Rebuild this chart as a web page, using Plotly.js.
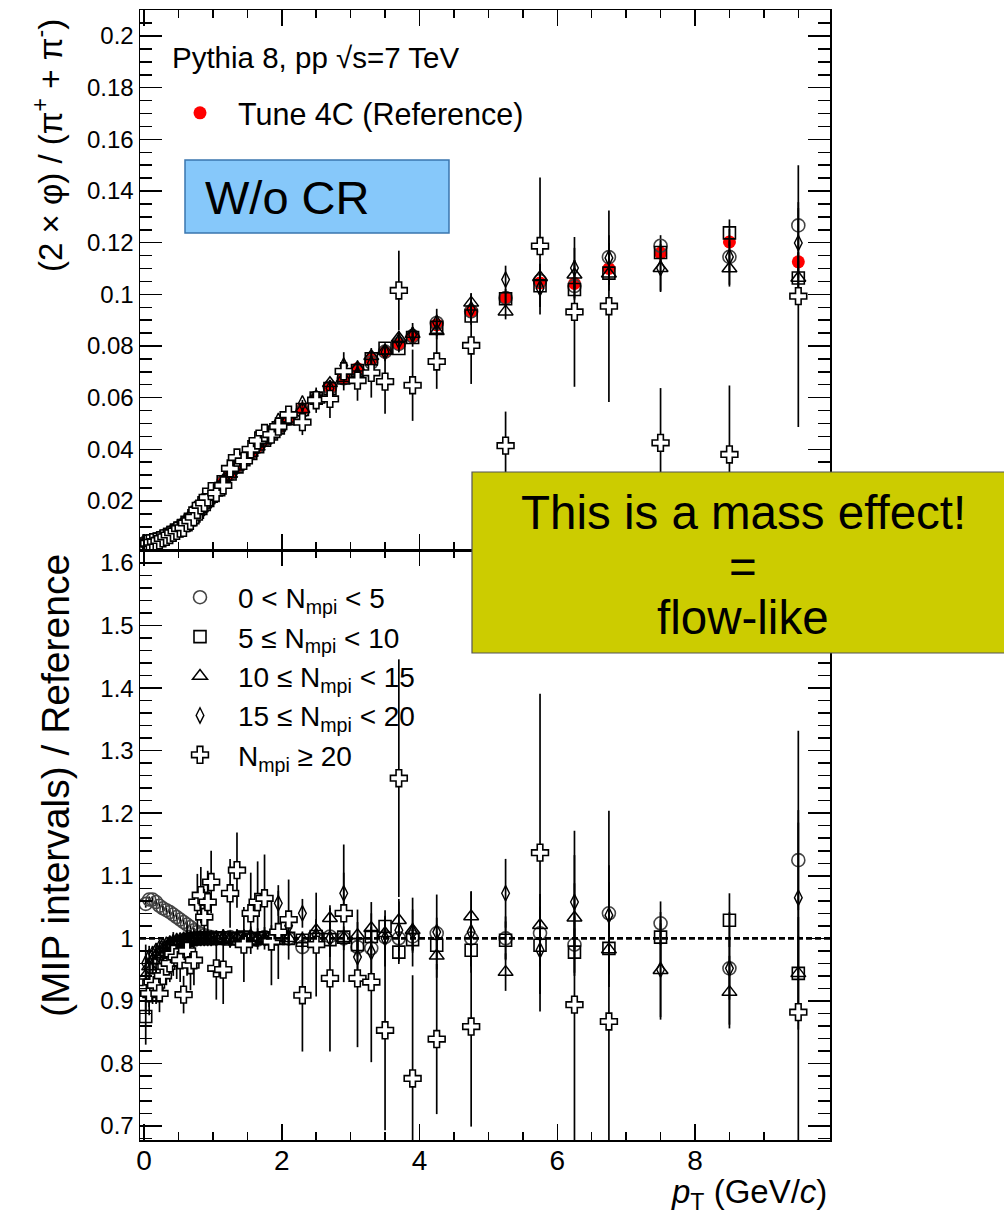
<!DOCTYPE html>
<html><head><meta charset="utf-8">
<script src="https://cdn.plot.ly/plotly-3.0.1.min.js"></script>
<style>html,body{margin:0;padding:0;background:#fff}</style>
</head><body><div id="chart" style="width:1004px;height:1217px"></div>
<script>
// pT bin centres (GeV/c)
const pt = [0.025,0.075,0.125,0.175,0.225,0.275,0.325,0.375,0.425,0.475,0.525,0.575,0.625,0.675,0.725,0.775,0.825,0.875,0.925,0.975,1.05,1.15,1.25,1.35,1.45,1.55,1.65,1.75,1.85,1.95,2.1,2.3,2.5,2.7,2.9,3.1,3.3,3.5,3.7,3.9,4.25,4.75,5.25,5.75,6.25,6.75,7.5,8.5,9.5];

// Top panel: (2 x phi)/(pi+ + pi-)
const refTop = [0.0038,0.0040,0.0043,0.0047,0.0052,0.0058,0.0064,0.0071,0.0079,0.0087,0.0096,0.0106,0.0117,0.0129,0.0142,0.0156,0.0171,0.0186,0.0202,0.0218,0.0243,0.0274,0.0304,0.0332,0.0359,0.0385,0.0410,0.0435,0.0459,0.0483,0.0518,0.0556,0.0596,0.0636,0.0675,0.0712,0.0748,0.0776,0.0808,0.0835,0.0882,0.0934,0.0986,0.1044,0.1042,0.1100,0.1160,0.1203,0.1126];
const refTopErr = [0.00002,0.00002,0.00002,0.00002,0.00002,0.00002,0.00002,0.00003,0.00003,0.00003,0.00003,0.00004,0.00004,0.00005,0.00005,0.00006,0.00006,0.00007,0.00008,0.00008,0.0001,0.00011,0.00013,0.00014,0.00016,0.00018,0.0002,0.00022,0.00024,0.00026,0.0003,0.00034,0.00039,0.00044,0.0005,0.00056,0.00063,0.0007,0.00078,0.00086,0.001,0.0012,0.0014,0.0017,0.0019,0.0022,0.0018,0.0025,0.0035];

const circTop = [0.0040,0.0042,0.0046,0.0050,0.0055,0.0061,0.0067,0.0074,0.0082,0.0090,0.0099,0.0109,0.0120,0.0131,0.0144,0.0158,0.0172,0.0187,0.0203,0.0218,0.0243,0.0274,0.0305,0.0332,0.0359,0.0385,0.0409,0.0436,0.0459,0.0483,0.0518,0.0548,0.0596,0.0638,0.0675,0.0702,0.0736,0.0778,0.0808,0.0838,0.0889,0.0934,0.0986,0.1052,0.1032,0.1144,0.1188,0.1145,0.1267];
const circTopErr = [0.00002,0.00002,0.00002,0.00002,0.00002,0.00002,0.00003,0.00003,0.00003,0.00003,0.00004,0.00004,0.00005,0.00005,0.00006,0.00006,0.00007,0.00007,0.0001,0.0001,0.00012,0.00014,0.00018,0.0002,0.00022,0.00027,0.00029,0.00035,0.00037,0.00043,0.00047,0.00056,0.00066,0.00076,0.00088,0.00107,0.0012,0.0014,0.0016,0.0018,0.0022,0.0028,0.0035,0.0042,0.0047,0.0055,0.0041,0.006,0.009];
const sqTop = [0.0033,0.0037,0.0040,0.0045,0.0050,0.0056,0.0062,0.0070,0.0078,0.0086,0.0095,0.0105,0.0117,0.0129,0.0142,0.0156,0.0171,0.0186,0.0202,0.0218,0.0243,0.0274,0.0304,0.0332,0.0360,0.0384,0.0410,0.0435,0.0459,0.0483,0.0518,0.0554,0.0598,0.0635,0.0676,0.0705,0.0750,0.0791,0.0790,0.0833,0.0872,0.0916,0.0983,0.1033,0.1019,0.1082,0.1162,0.1238,0.1063];
const sqTopErr = [0.00017,0.0001,0.00006,0.00005,0.00004,0.00003,0.00003,0.00004,0.00003,0.00003,0.00004,0.00004,0.00005,0.00005,0.00006,0.00006,0.00007,0.00007,0.00008,0.00009,0.00012,0.00014,0.00015,0.00017,0.00022,0.00023,0.00025,0.0003,0.00032,0.00039,0.00041,0.0005,0.0006,0.0007,0.00081,0.00093,0.0011,0.0013,0.0015,0.0018,0.0019,0.0024,0.003,0.0035,0.004,0.0046,0.0046,0.0052,0.0068];
const triTop = [0.0036,0.0038,0.0041,0.0046,0.0051,0.0057,0.0063,0.0070,0.0078,0.0086,0.0096,0.0106,0.0117,0.0129,0.0142,0.0156,0.0171,0.0186,0.0202,0.0218,0.0243,0.0274,0.0304,0.0332,0.0359,0.0386,0.0410,0.0434,0.0459,0.0483,0.0518,0.0555,0.0604,0.0656,0.0675,0.0716,0.0760,0.0782,0.0831,0.0846,0.0857,0.0967,0.0933,0.1066,0.1076,0.1080,0.1101,0.1100,0.1063];
const triTopErr = [0.00008,0.00005,0.00004,0.00003,0.00003,0.00003,0.00003,0.00004,0.00004,0.00004,0.00005,0.00005,0.00006,0.00006,0.00007,0.00008,0.00009,0.00009,0.0001,0.00011,0.00015,0.00016,0.00021,0.00023,0.00029,0.00031,0.00037,0.00044,0.00046,0.00053,0.00062,0.00072,0.00089,0.0011,0.0013,0.0015,0.0018,0.0021,0.0024,0.0028,0.0031,0.0037,0.003,0.0052,0.0057,0.0066,0.0087,0.007,0.0101];
const diaTop = [0.0036,0.0039,0.0042,0.0046,0.0051,0.0057,0.0063,0.0070,0.0079,0.0087,0.0096,0.0106,0.0117,0.0129,0.0142,0.0156,0.0171,0.0186,0.0202,0.0218,0.0243,0.0275,0.0303,0.0332,0.0359,0.0386,0.0410,0.0435,0.0460,0.0510,0.0528,0.0578,0.0599,0.0636,0.0724,0.0691,0.0732,0.0776,0.0819,0.0843,0.0891,0.0943,0.1057,0.1024,0.1102,0.1141,0.1102,0.1145,0.1199];
const diaTopErr = [0.00011,0.00007,0.00006,0.00005,0.00005,0.00005,0.00005,0.00006,0.00006,0.00007,0.00008,0.00008,0.00009,0.0001,0.00013,0.00014,0.00015,0.00019,0.0002,0.00022,0.00027,0.00033,0.0004,0.00046,0.00054,0.00062,0.0007,0.00078,0.00087,0.00097,0.0011,0.0013,0.0015,0.0019,0.0022,0.0026,0.0031,0.0035,0.004,0.0046,0.0053,0.0061,0.0054,0.0073,0.0078,0.0088,0.0093,0.0108,0.0135];
const crossTop = [0.0035,0.0036,0.0040,0.0043,0.0047,0.0055,0.0061,0.0068,0.0077,0.0084,0.0093,0.0096,0.0115,0.0123,0.0137,0.0165,0.0183,0.0192,0.0214,0.0238,0.0231,0.0260,0.0326,0.0368,0.0355,0.0400,0.0434,0.0463,0.0457,0.0488,0.0534,0.0505,0.0590,0.0595,0.0702,0.0666,0.0696,0.0662,0.1015,0.0648,0.0740,0.0802,0.0414,0.1187,0.0932,0.0954,0.0425,0.0380,0.0993];
const crossTopErr = [0.00015,0.00014,0.00015,0.00014,0.00016,0.00017,0.00019,0.00021,0.00028,0.0003,0.00034,0.00032,0.00047,0.00052,0.00057,0.0007,0.00077,0.00084,0.001,0.0011,0.0012,0.0015,0.0017,0.002,0.0022,0.0025,0.0027,0.003,0.0032,0.0036,0.0033,0.005,0.0049,0.0074,0.0074,0.0078,0.0096,0.0124,0.0154,0.0138,0.0106,0.0149,0.0132,0.0265,0.029,0.0371,0.0212,0.0267,0.0507];

// Bottom panel: (MIP intervals) / Reference
const circRatio = [1.055,1.062,1.062,1.058,1.052,1.048,1.045,1.042,1.038,1.034,1.030,1.026,1.022,1.018,1.013,1.010,1.007,1.005,1.003,1.002,1.001,1.000,1.002,0.999,1.001,1.000,0.998,1.002,1.000,1.001,1.000,0.986,1.000,1.003,1.000,0.986,0.984,1.002,1.000,1.003,1.008,1.000,1.000,1.008,0.990,1.040,1.024,0.952,1.125];
const circRatioErr = [0.006,0.005,0.005,0.005,0.004,0.004,0.004,0.004,0.004,0.004,0.004,0.004,0.004,0.004,0.004,0.004,0.004,0.004,0.005,0.005,0.005,0.005,0.006,0.006,0.006,0.007,0.007,0.008,0.008,0.009,0.009,0.01,0.011,0.012,0.013,0.015,0.016,0.018,0.02,0.022,0.025,0.03,0.035,0.04,0.045,0.05,0.035,0.05,0.08];
const sqRatio = [0.875,0.915,0.935,0.950,0.960,0.968,0.975,0.980,0.985,0.989,0.992,0.995,0.997,0.998,0.999,1.000,1.000,1.001,1.000,1.000,1.000,1.001,0.999,1.000,1.002,0.998,1.000,1.001,0.999,1.000,1.000,0.997,1.003,0.998,1.002,0.990,1.003,1.019,0.978,0.998,0.989,0.981,0.997,0.989,0.978,0.984,1.002,1.029,0.944];
const sqRatioErr = [0.045,0.025,0.015,0.01,0.008,0.006,0.005,0.005,0.004,0.004,0.004,0.004,0.004,0.004,0.004,0.004,0.004,0.004,0.004,0.004,0.005,0.005,0.005,0.005,0.006,0.006,0.006,0.007,0.007,0.008,0.008,0.009,0.01,0.011,0.012,0.013,0.015,0.017,0.019,0.021,0.022,0.026,0.03,0.034,0.038,0.042,0.04,0.043,0.06];
const triRatio = [0.940,0.955,0.965,0.972,0.978,0.982,0.986,0.989,0.991,0.993,0.995,0.996,0.997,0.998,0.999,1.000,1.000,1.000,1.001,1.000,1.000,0.999,1.001,1.000,0.999,1.002,1.000,0.998,1.001,1.000,1.000,0.998,1.013,1.032,1.000,1.005,1.016,1.008,1.029,1.013,0.972,1.035,0.946,1.021,1.033,0.982,0.949,0.914,0.944];
const triRatioErr = [0.02,0.012,0.009,0.007,0.006,0.005,0.005,0.005,0.005,0.005,0.005,0.005,0.005,0.005,0.005,0.005,0.005,0.005,0.005,0.005,0.006,0.006,0.007,0.007,0.008,0.008,0.009,0.01,0.01,0.011,0.012,0.013,0.015,0.017,0.019,0.021,0.024,0.027,0.03,0.033,0.035,0.04,0.03,0.05,0.055,0.06,0.075,0.058,0.09];
const diaRatio = [0.960,0.970,0.975,0.980,0.985,0.988,0.990,0.992,0.994,0.996,0.997,0.998,0.999,1.000,1.000,1.000,1.000,1.000,1.000,1.000,1.000,1.002,0.998,1.001,1.000,1.003,0.999,1.000,1.002,1.056,1.020,1.040,1.005,1.000,1.072,0.970,0.978,1.000,1.013,1.010,1.010,1.010,1.072,0.981,1.058,1.037,0.950,0.952,1.065];
const diaRatioErr = [0.03,0.018,0.013,0.01,0.009,0.008,0.008,0.008,0.008,0.008,0.008,0.008,0.008,0.008,0.009,0.009,0.009,0.01,0.01,0.01,0.011,0.012,0.013,0.014,0.015,0.016,0.017,0.018,0.019,0.02,0.021,0.023,0.026,0.03,0.033,0.037,0.041,0.045,0.05,0.055,0.06,0.065,0.055,0.07,0.075,0.08,0.08,0.09,0.12];
const crossRatio = [0.920,0.912,0.930,0.925,0.912,0.940,0.955,0.960,0.975,0.970,0.965,0.910,0.980,0.957,0.965,1.058,1.069,1.034,1.058,1.090,0.952,0.950,1.072,1.109,0.990,1.040,1.058,1.064,0.995,1.010,1.030,0.909,0.990,0.936,1.040,0.936,0.930,0.853,1.256,0.776,0.839,0.859,0.420,1.137,0.894,0.867,0.366,0.316,0.882];
const crossRatioErr = [0.04,0.035,0.035,0.03,0.03,0.03,0.03,0.03,0.035,0.035,0.035,0.03,0.04,0.04,0.04,0.045,0.045,0.045,0.05,0.05,0.05,0.055,0.055,0.06,0.06,0.065,0.065,0.07,0.07,0.075,0.064,0.09,0.083,0.117,0.11,0.11,0.128,0.16,0.19,0.165,0.12,0.16,0.134,0.254,0.278,0.337,0.183,0.222,0.45];

const refLabel = 'Tune 4C (Reference)';
const seriesLabels = ['0 &lt; N<sub>mpi</sub> &lt; 5','5 ≤ N<sub>mpi</sub> &lt; 10','10 ≤ N<sub>mpi</sub> &lt; 15','15 ≤ N<sub>mpi</sub> &lt; 20','N<sub>mpi</sub> ≥ 20'];

const FONT = 'Liberation Sans, Arial, Helvetica, sans-serif';
function err(arr){ return {type:'data', array:arr, visible:true, thickness:1.7, width:0, color:'#000'}; }

const markers = [
  {symbol:'circle-open', size:13, color:'#444', line:{width:1.6, color:'#444'}},
  {symbol:'square-open', size:12, color:'#000', line:{width:1.6, color:'#000'}},
  {symbol:'triangle-up-open', size:13, color:'#000', line:{width:1.5, color:'#000'}},
  {symbol:'diamond-tall-open', size:11, color:'#000', line:{width:1.4, color:'#000'}},
  {symbol:'cross', size:14, color:'#fff', line:{width:1.6, color:'#000'}}
];
const tops = [[circTop,circTopErr],[sqTop,sqTopErr],[triTop,triTopErr],[diaTop,diaTopErr],[crossTop,crossTopErr]];
const ratios = [[circRatio,circRatioErr],[sqRatio,sqRatioErr],[triRatio,triRatioErr],[diaRatio,diaRatioErr],[crossRatio,crossRatioErr]];

const traces = [];
traces.push({x:pt, y:refTop, error_y:err(refTopErr), type:'scatter', mode:'markers', xaxis:'x', yaxis:'y',
  name:refLabel, legend:'legend', marker:{symbol:'circle', size:13, color:'#ff0000', line:{width:0}}, cliponaxis:true});
for(let k=0;k<5;k++){
  traces.push({x:pt, y:tops[k][0], error_y:err(tops[k][1]), type:'scatter', mode:'markers', xaxis:'x', yaxis:'y',
    showlegend:false, marker:markers[k], cliponaxis:true});
}
for(let k=0;k<5;k++){
  traces.push({x:pt, y:ratios[k][0], error_y:err(ratios[k][1]), type:'scatter', mode:'markers', xaxis:'x2', yaxis:'y2',
    name:seriesLabels[k], legend:'legend2', legendgroup:'g'+k, marker:markers[k], cliponaxis:true});
}

const L = 140, R = 174, T = 10, B = 77;
const plotH = 1217 - T - B; // 1130
const split = (1140 - 550) / plotH;
function px(xp){ return (xp - L) / (1004 - L - R); }
function py(yp){ return (1140 - yp) / plotH; }

const xCommon = {range:[-0.058, 9.96], dtick:2, tick0:0, ticks:'inside', ticklen:16, tickwidth:1.5, tickcolor:'#000',
  showline:true, linewidth:1.5, linecolor:'#000', mirror:'allticks', showgrid:false, zeroline:false,
  minor:{ticks:'inside', ticklen:8, dtick:0.5, tick0:0, tickwidth:1.5, tickcolor:'#000', showgrid:false},
  tickfont:{family:FONT, size:28, color:'#000'}};
const yCommon = {ticks:'inside', ticklen:22, tickwidth:1.5, tickcolor:'#000', showline:true, linewidth:1.5, linecolor:'#000',
  mirror:'allticks', showgrid:false, zeroline:false, tickfont:{family:FONT, size:24, color:'#000'}};

const layout = {
  width:1004, height:1217, margin:{l:L, r:R, t:T, b:B}, paper_bgcolor:'#fff', plot_bgcolor:'#fff',
  font:{family:FONT, color:'#000'},
  xaxis:Object.assign({}, xCommon, {anchor:'y', domain:[0,1], showticklabels:false}),
  yaxis:Object.assign({}, yCommon, {anchor:'x', domain:[split,1], range:[0.001,0.2101], dtick:0.02, tick0:0,
    minor:{ticks:'inside', ticklen:12, dtick:0.005, tick0:0, tickwidth:1.5, tickcolor:'#000', showgrid:false}}),
  xaxis2:Object.assign({}, xCommon, {anchor:'y2', domain:[0,1], showticklabels:true, ticklabelstandoff:-5}),
  yaxis2:Object.assign({}, yCommon, {anchor:'x2', domain:[0,split], range:[0.6776,1.6208], dtick:0.1, tick0:0,
    minor:{ticks:'inside', ticklen:12, dtick:0.02, tick0:0, tickwidth:1.5, tickcolor:'#000', showgrid:false}}),
  showlegend:true,
  legend:{x:px(162), xanchor:'left', y:py(113), yanchor:'middle', bgcolor:'rgba(0,0,0,0)', borderwidth:0,
    itemwidth:66, font:{family:FONT, size:30.5, color:'#000'}},
  legend2:{x:px(162), xanchor:'left', y:py(676), yanchor:'middle', bgcolor:'rgba(0,0,0,0)', borderwidth:0,
    itemwidth:66, font:{family:FONT, size:28, color:'#000'}, traceorder:'grouped', tracegroupgap:0},
  shapes:[
    {type:'line', xref:'x2 domain', yref:'y2', x0:0, x1:1, y0:1, y1:1, line:{color:'#000', width:2.6, dash:'6px,3px'}},
    {type:'rect', xref:'paper', yref:'paper', x0:px(185), x1:px(449), y0:py(233), y1:py(160),
      fillcolor:'#86c8fa', line:{color:'#3a76af', width:1.5}, layer:'above'},
    {type:'rect', xref:'paper', yref:'paper', x0:px(472), x1:px(1012), y0:py(653), y1:py(472),
      fillcolor:'#cccc00', line:{color:'#555', width:1.2}, layer:'above'}
  ],
  annotations:[
    {xref:'paper', yref:'paper', x:px(48), y:py(146), text:'(2 × φ) / (π<sup>+</sup> + π<sup>-</sup>)', textangle:-90,
      showarrow:false, xanchor:'center', yanchor:'middle', font:{family:FONT, size:33, color:'#000'}},
    {xref:'paper', yref:'paper', x:px(55), y:py(786), text:'(MIP intervals) / Reference', textangle:-90,
      showarrow:false, xanchor:'center', yanchor:'middle', font:{family:FONT, size:39, color:'#000'}},
    {xref:'paper', yref:'paper', x:px(829), y:py(1194), text:'<i>p</i><sub>T</sub> (GeV/<i>c</i>)',
      showarrow:false, xanchor:'right', yanchor:'middle', font:{family:FONT, size:33, color:'#000'}},
    {xref:'paper', yref:'paper', x:px(170), y:py(57), text:'Pythia 8, pp √s=7 TeV',
      showarrow:false, xanchor:'left', yanchor:'middle', font:{family:FONT, size:29.5, color:'#000'}},
    {xref:'paper', yref:'paper', x:px(203), y:py(197), text:'W/o CR',
      showarrow:false, xanchor:'left', yanchor:'middle', font:{family:FONT, size:47, color:'#000'}},
    {xref:'paper', yref:'paper', x:px(743), y:py(512), text:'This is a mass effect!',
      showarrow:false, xanchor:'center', yanchor:'middle', font:{family:FONT, size:47.5, color:'#000'}},
    {xref:'paper', yref:'paper', x:px(743), y:py(566), text:'=',
      showarrow:false, xanchor:'center', yanchor:'middle', font:{family:FONT, size:47.5, color:'#000'}},
    {xref:'paper', yref:'paper', x:px(743), y:py(617), text:'flow-like',
      showarrow:false, xanchor:'center', yanchor:'middle', font:{family:FONT, size:47.5, color:'#000'}}
  ]
};

Plotly.newPlot('chart', traces, layout, {staticPlot:true, displayModeBar:false});
</script>
</body></html>
